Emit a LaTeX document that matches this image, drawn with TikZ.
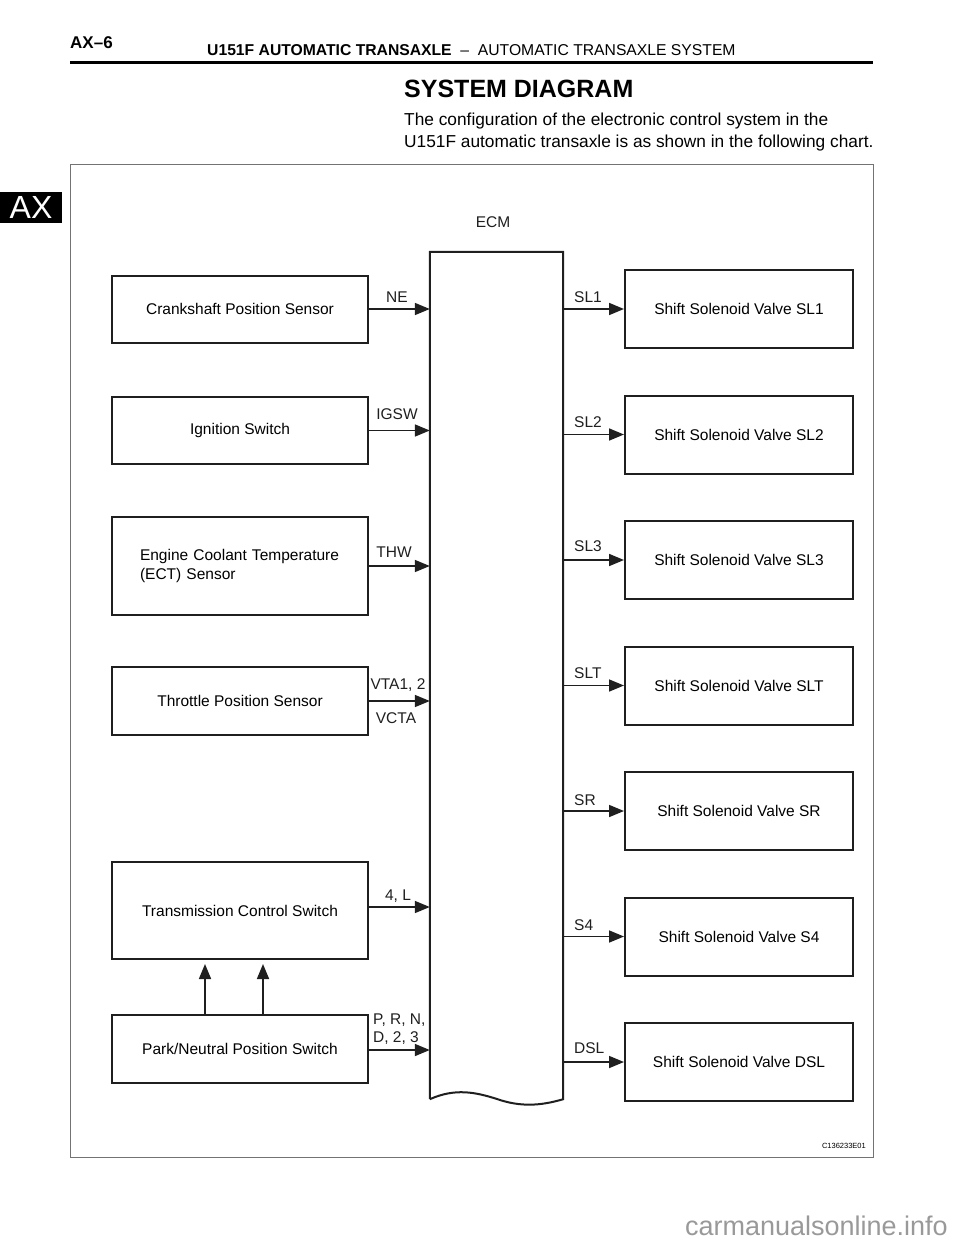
\documentclass[tikz,border=0pt]{standalone}
\usepackage{fontspec}
\setmainfont{Liberation Sans}
\usetikzlibrary{arrows.meta}
\begin{document}
\begin{tikzpicture}[x=1pt,y=-1pt,
  box/.style={draw=black!88, line width=2pt, inner sep=0pt, font=\fontsize{15.5}{19}\selectfont},
  lbox/.style={box, minimum width=256pt},
  rbox/.style={box, minimum width=228pt, minimum height=78pt},
  arr/.style={draw=black!88, line width=1.7pt, -{Triangle[length=15pt,width=12pt]}},
  lab/.style={font=\fontsize{15.5}{18}\selectfont, inner sep=0pt, text=black!88},
]
\useasboundingbox (0,0) rectangle (960,1242);
% page header
\node[anchor=base west, inner sep=0pt, font=\bfseries\fontsize{17}{20}\selectfont] (pg) at (70,48) {AX–6};
\node[anchor=base west, inner sep=0pt, font=\fontsize{15.7}{19}\selectfont] (hd) at (207,55) {\textbf{U151F AUTOMATIC TRANSAXLE} \ – \ AUTOMATIC TRANSAXLE SYSTEM};
\draw[line width=3pt] (70,62) -- (873,62);
\node[anchor=base west, inner sep=0pt, font=\bfseries\fontsize{25}{30}\selectfont] (title) at (404,97) {SYSTEM DIAGRAM};
\node[anchor=base west, inner sep=0pt, font=\fontsize{17.3}{22}\selectfont] (p1) at (404,125) {The configuration of the electronic control system in the};
\node[anchor=base west, inner sep=0pt, font=\fontsize{17.3}{22}\selectfont] (p2) at (404,147) {U151F automatic transaxle is as shown in the following chart.};
\node[fill=black, text=white, minimum width=62pt, minimum height=31pt, inner sep=0pt, font=\fontsize{32}{34}\selectfont] (tab) at (31,207) {AX};
% frame
\draw[draw=black!55, line width=1pt] (70,164) rectangle (873,1157);
\node[anchor=base east, inner sep=0pt, font=\fontsize{7.5}{9}\selectfont] (code) at (866,1148) {C136233E01};
\node[anchor=base east, inner sep=0pt, text=black!40, font=\fontsize{27}{30}\selectfont] (wm) at (948,1235) {carmanualsonline.info};
% ECM
\node[lab] (ecmlab) at (493,222) {ECM};
\node[minimum width=133pt, minimum height=847pt, inner sep=0pt] (ecm) at (496.5,675.5) {};
\draw[draw=black!88, line width=2pt, line join=miter]
  (ecm.south west) -- (ecm.north west) -- (ecm.north east) -- (ecm.south east)
  .. controls (540,1106) and (520,1107) .. (497,1099)
  .. controls (475,1092) and (455,1088) .. (ecm.south west);
% left boxes
\node[lbox, minimum height=67pt] (crank) at (240,309) {Crankshaft Position Sensor};
\node[lbox, minimum height=67pt] (ign) at (240,430.5) {Ignition Switch};
\node[lbox, minimum height=98pt, text width=200pt, align=left] (ect) at (240,566) {Engine Coolant Temperature\\(ECT) Sensor};
\node[lbox, minimum height=68pt] (tps) at (240,701) {Throttle Position Sensor};
\node[lbox, minimum height=97pt] (tcs) at (240,910.5) {Transmission Control Switch};
\node[lbox, minimum height=68pt] (pnp) at (240,1049) {Park/Neutral Position Switch};
% right boxes
\node[rbox] (sl1) at (739,309) {Shift Solenoid Valve SL1};
\node[rbox] (sl2) at (739,434.5) {Shift Solenoid Valve SL2};
\node[rbox] (sl3) at (739,560) {Shift Solenoid Valve SL3};
\node[rbox] (slt) at (739,685.5) {Shift Solenoid Valve SLT};
\node[rbox] (sr) at (739,811) {Shift Solenoid Valve SR};
\node[rbox] (s4) at (739,936.5) {Shift Solenoid Valve S4};
\node[rbox] (dsl) at (739,1062) {Shift Solenoid Valve DSL};
% input arrows
\coordinate (ytcs) at (0,907);
\coordinate (ypnp) at (0,1050);
\draw[arr] (crank.east) -- (crank.east -| ecm.west);
\draw[arr] (ign.east) -- (ign.east -| ecm.west);
\draw[arr] (ect.east) -- (ect.east -| ecm.west);
\draw[arr] (tps.east) -- (tps.east -| ecm.west);
\draw[arr] (tcs.east |- ytcs) -- (ecm.west |- ytcs);
\draw[arr] (pnp.east |- ypnp) -- (ecm.west |- ypnp);
\coordinate (v1) at (205,0);
\coordinate (v2) at (263,0);
\draw[arr, shorten >=4pt] (pnp.north -| v1) -- (tcs.south -| v1);
\draw[arr, shorten >=4pt] (pnp.north -| v2) -- (tcs.south -| v2);
% output arrows
\foreach \n in {sl1,sl2,sl3,slt,sr,s4,dsl}
  \draw[arr] (ecm.east |- \n.west) -- (\n.west);
% labels
\node[lab] (lne) at (397,297) {NE};
\node[lab] (ligsw) at (397,414) {IGSW};
\node[lab] (lthw) at (394,552) {THW};
\node[lab] (lvta) at (398,685) {VTA1, 2};
\node[lab] (lvcta) at (396,718) {VCTA};
\node[lab] (l4l) at (398,896) {4, L};
\node[lab, align=left, anchor=west] (lprn) at (373,1029) {P, R, N,\\D, 2, 3};
\node[lab, anchor=west] (lsl1) at (574,297) {SL1};
\node[lab, anchor=west] (lsl2) at (574,422) {SL2};
\node[lab, anchor=west] (lsl3) at (574,546) {SL3};
\node[lab, anchor=west] (lslt) at (574,673) {SLT};
\node[lab, anchor=west] (lsr) at (574,800) {SR};
\node[lab, anchor=west] (ls4) at (574,925) {S4};
\node[lab, anchor=west] (ldsl) at (574,1048) {DSL};
\end{tikzpicture}
\end{document}
